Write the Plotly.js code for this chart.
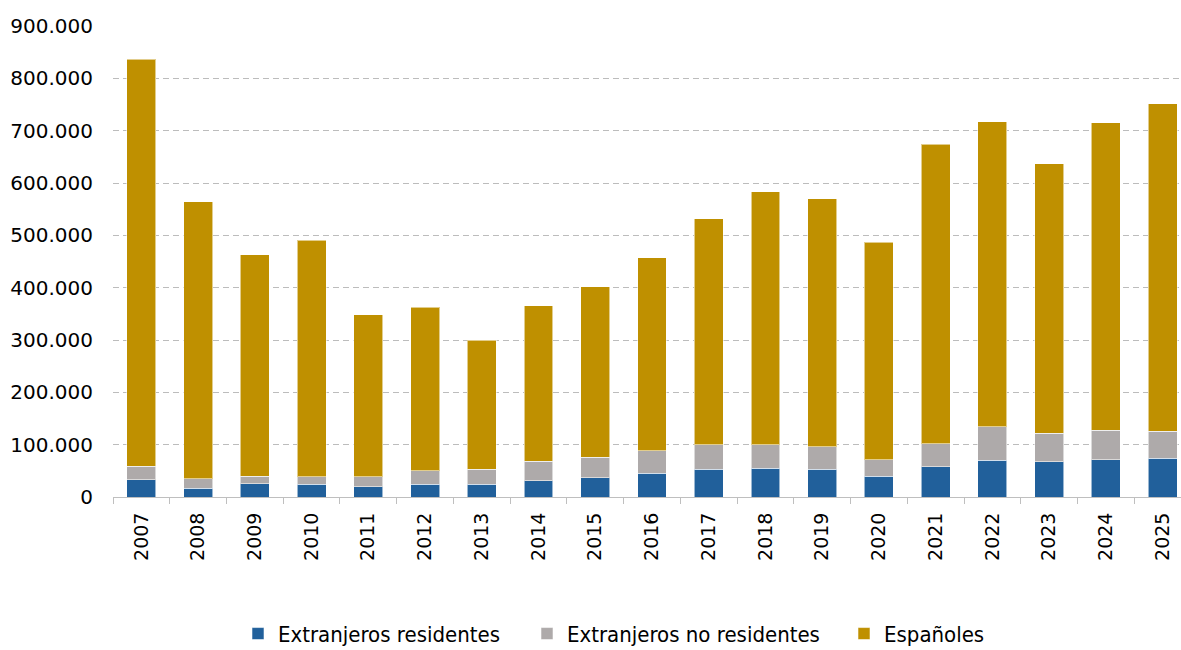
<!DOCTYPE html>
<html>
<head>
<meta charset="utf-8">
<script src="https://cdn.plot.ly/plotly-3.0.1.min.js"></script>
<style>
html, body { margin: 0; padding: 0; overflow: hidden; background: #fff; }
#chart { width: 1191px; height: 650px; }
</style>
</head>
<body>
<div id="chart"></div>
<script>
const years = ['2007','2008','2009','2010','2011','2012','2013','2014','2015','2016','2017','2018','2019','2020','2021','2022','2023','2024','2025'];
const extranjerosResidentes = [33000,17000,25000,24000,20000,24000,24000,31000,37000,45000,53000,55000,53000,40000,58000,70000,67000,71000,74000];
const extranjerosNoResidentes = [26000,18000,15000,15000,19000,26000,29000,37000,39000,43000,47000,45000,43000,31000,44000,64000,55000,57000,52000];
const espanoles = [777000,529000,423000,452000,309000,313000,247000,297000,326000,369000,432000,483000,474000,416000,572000,583000,515000,587000,625000];
const seriesNames = ['Extranjeros residentes','Extranjeros no residentes','Españoles'];
const seriesColors = ['#21609b','#aeaaaa','#bf9000'];
const yTicks = [0,100000,200000,300000,400000,500000,600000,700000,800000,900000];

const allValues = [extranjerosResidentes, extranjerosNoResidentes, espanoles];
const legendIds = ['legend','legend2','legend3'];
const traces = allValues.map((vals, i) => ({
  type: 'bar',
  x: years,
  y: vals,
  name: seriesNames[i],
  legend: legendIds[i],
  marker: { color: seriesColors[i], line: { color: 'rgba(255,255,255,0.55)', width: 1 } },
  hoverinfo: 'x+y+name'
}));

function legendAt(xPx) {
  return {
    orientation: 'h',
    xref: 'container',
    yref: 'container',
    x: xPx / 1191,
    xanchor: 'left',
    y: 0.025,
    yanchor: 'middle',
    font: { family: 'DejaVu Sans Condensed', size: 22, color: '#000' },
    bgcolor: 'rgba(0,0,0,0)'
  };
}

const layout = {
  width: 1191,
  height: 650,
  barmode: 'stack',
  bargap: 0.49,
  separators: ',.',
  paper_bgcolor: '#fff',
  plot_bgcolor: '#fff',
  margin: { l: 113, r: 0, t: 26, b: 153, pad: 0 },
  font: { family: 'DejaVu Sans', size: 19, color: '#000' },
  xaxis: {
    type: 'category',
    automargin: false,
    tickangle: -90,
    ticks: 'outside',
    tickson: 'boundaries',
    ticklen: 6,
    tickcolor: '#bfbfbf',
    tickwidth: 1,
    showline: true,
    linecolor: '#bfbfbf',
    linewidth: 1,
    showgrid: false,
    ticklabelstandoff: 7,
    tickfont: { family: 'DejaVu Sans', size: 19, color: '#000' }
  },
  yaxis: {
    automargin: false,
    range: [0, 900000],
    tickvals: yTicks,
    tickformat: ',d',
    showgrid: true,
    gridcolor: '#bcbcbc',
    gridwidth: 1,
    griddash: '6px,4px',
    zeroline: false,
    showline: false,
    ticks: '',
    ticklabelstandoff: 19,
    tickfont: { family: 'DejaVu Sans', size: 20, color: '#000' }
  },
  showlegend: true,
  legend: legendAt(238),
  legend2: legendAt(527),
  legend3: legendAt(844)
};

Plotly.newPlot('chart', traces, layout, { displayModeBar: false, staticPlot: true });
</script>
</body>
</html>
